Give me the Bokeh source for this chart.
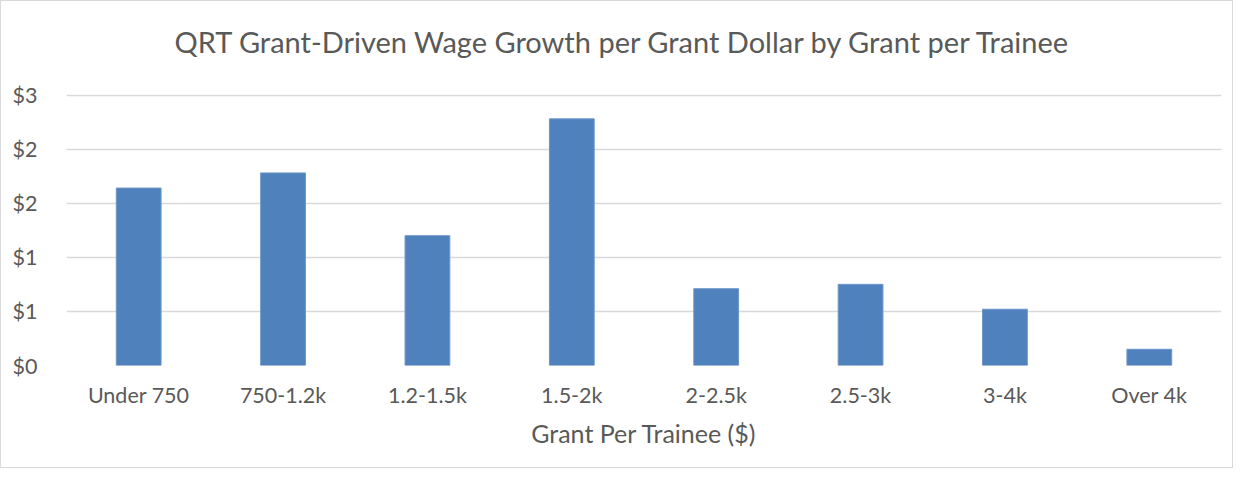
from bokeh.plotting import figure
from bokeh.models import Range1d, FixedTicker, ColumnDataSource, Title
from bokeh.embed import file_html
from bokeh.resources import INLINE

categories = ["Under 750", "750-1.2k", "1.2-1.5k", "1.5-2k", "2-2.5k", "2.5-3k", "3-4k", "Over 4k"]
values = [1.64, 1.78, 1.20, 2.28, 0.71, 0.75, 0.52, 0.15]
y_ticks = [0, 0.5, 1, 1.5, 2, 2.5]
y_tick_labels = ["$0", "$1", "$1", "$2", "$2", "$3"]
title_text = "QRT Grant-Driven Wage Growth per Grant Dollar by Grant per Trainee"
x_title = "Grant Per Trainee ($)"

FONT = "Lato"
TXT = "#595959"

p = figure(x_range=categories, y_range=Range1d(0, 2.505), width=1233, height=468,
           output_backend="svg", toolbar_location=None, title=None,
           min_border_left=65, min_border_right=13, min_border_top=93, min_border_bottom=104)
p.styles = {"border": "1px solid #d9d9d9", "box-sizing": "border-box"}

src = ColumnDataSource(dict(cat=categories, val=values))
p.vbar(x="cat", top="val", width=0.31, source=src, fill_color="#4f81bd", line_color="#6d95c9", line_width=1)

p.yaxis.ticker = FixedTicker(ticks=y_ticks)
p.yaxis.major_label_overrides = {t: lab for t, lab in zip(y_ticks, y_tick_labels)}
for ax in (p.xaxis[0], p.yaxis[0]):
    ax.axis_line_color = None
    ax.major_tick_line_color = None
    ax.minor_tick_line_color = None
    ax.major_label_text_font = FONT
    ax.major_label_text_color = TXT
    ax.major_label_text_font_size = "21.5px"
p.yaxis.major_label_standoff = 23
p.xaxis.major_label_standoff = 10
p.xaxis.axis_label = x_title
p.xaxis.axis_label_text_font = FONT
p.xaxis.axis_label_text_font_style = "normal"
p.xaxis.axis_label_text_font_size = "25px"
p.xaxis.axis_label_text_color = TXT
p.xaxis.axis_label_standoff = 7

p.xgrid.grid_line_color = None
p.ygrid.grid_line_color = "#d9d9d9"
p.ygrid.grid_line_width = 1.5
p.outline_line_color = None

spacer = Title(text=" ", text_font_size="1px", standoff=28)
p.add_layout(spacer, "above")
main_title = Title(text=title_text, align="left", offset=108, text_font=FONT,
                   text_font_style="normal", text_font_size="29px", text_color=TXT, standoff=10)
p.add_layout(main_title, "above")

open("out.html", "w").write(file_html(p, INLINE))
